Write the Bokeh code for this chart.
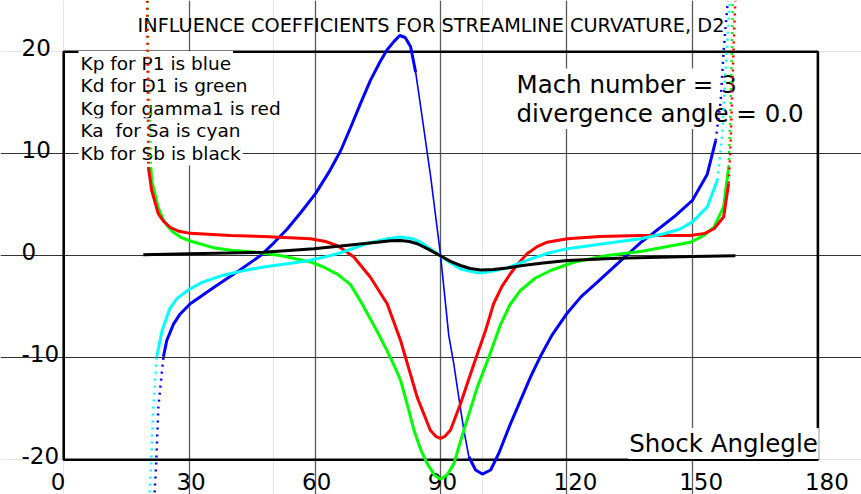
import numpy as np
from bokeh.plotting import figure
from bokeh.models import Range1d, Grid, FixedTicker
from bokeh.core.properties import value
from bokeh.embed import file_html
from bokeh.resources import INLINE

# ---------------- data ----------------
TITLE = "INFLUENCE COEFFICIENTS FOR STREAMLINE CURVATURE, D2"
X_TICKS = [0, 30, 60, 90, 120, 150, 180]
X_TICK_LABELS = ["0", "30", "60", "90", "120", "150", "180"]
Y_TICKS = [20, 10, 0, -10, -20]
Y_TICK_LABELS = ["20", "10", "0", "-10", "-20"]
X_GRID = [30, 60, 90, 120, 150]
Y_GRID = [10, 0, -10]
LEGEND_LINES = ["Kp for P1 is blue", "Kd for D1 is green", "Kg for gamma1 is red",
                "Ka\u00a0 for Sa is cyan", "Kb for Sb is black"]
INFO_LINES = ["Mach number = 3", "divergence angle = 0.0"]
X_LABEL = "Shock Anglegle"

# Kp (blue)
kp_x = [21.7, 22.0, 22.6, 23.8, 24.6, 26.2, 27.8, 30.2, 35.8, 41.3, 46.9, 50.0, 53.3, 56.5,
        60.1, 63.3, 66.1, 68.5, 70.8, 73.2, 75.6, 77.2, 78.8, 80.2, 81.5, 82.8, 84.0, 85.2,
        86.8, 87.5, 89.9, 91.9, 93.1, 94.3, 95.5, 96.7, 98.3, 99.9, 101.9, 103.8, 106.6, 111.4,
        113.6, 116.5, 120.2, 123.5, 127.3, 132.9, 137.7, 140.0, 145.6, 150.0, 153.6, 155.6,
        156.8, 157.5, 158.5]
kp_y = [-23.2, -21.0, -14.8, -9.9, -8.3, -6.7, -5.7, -4.7, -3.1, -1.6, 0.0, 1.2, 2.6, 4.2,
        6.1, 8.2, 10.3, 12.6, 14.9, 17.2, 19.1, 20.2, 21.0, 21.6, 21.4, 20.5, 18.0, 14.6,
        10.0, 8.0, 0.2, -7.8, -10.6, -13.9, -17.1, -19.7, -21.0, -21.4, -21.0, -19.4, -16.5, -11.9,
        -10.0, -7.8, -5.6, -4.0, -2.6, -0.5, 1.3, 2.0, 3.8, 5.4, 8.0, 11.3,
        15.2, 20.1, 25.0]
# Kd (green)
kd_x = [20.1, 20.2, 20.8, 21.0, 22.5, 23.8, 25.0, 26.2, 28.0, 30.2, 35.7, 40.0, 44.5, 47.0,
        52.0, 58.9, 62.0, 65.3, 68.4, 70.8, 74.8, 76.8, 78.8, 80.4, 82.0, 83.6, 85.2, 86.8,
        88.5, 89.9, 91.5, 93.1, 95.5, 98.7, 101.5, 104.2, 106.5, 109.0, 112.5, 116.2, 121.7,
        129.7, 137.7, 149.6, 152.8, 155.2, 157.5, 158.7, 159.1, 159.5, 159.7]
kd_y = [25.0, 20.4, 8.7, 7.4, 4.8, 3.5, 2.8, 2.3, 1.8, 1.45, 0.8, 0.55, 0.4, 0.3,
        0.0, -0.6, -1.1, -1.8, -2.8, -4.4, -7.4, -9.0, -10.7, -12.2, -14.6, -17.1, -19.0, -20.4,
        -21.5, -21.9, -21.5, -20.4, -17.1, -12.9, -9.9, -6.8, -4.8, -3.4, -2.2, -1.44, -0.63,
        0.03, 0.42, 1.33, 2.0, 2.8, 4.8, 8.7, 13.6, 20.8, 25.0]
# Kg (red)
kg_x = [19.9, 20.0, 20.2, 21.0, 22.6, 23.8, 25.4, 27.5, 30.2, 39.7, 47.7, 58.9, 62.5, 65.3,
        69.2, 73.2, 77.2, 80.4, 84.4, 87.5, 88.8, 89.9, 91.0, 92.3, 94.7, 97.9, 100.7, 102.6,
        104.6, 106.6, 108.6, 110.6, 113.0, 115.4, 120.2, 128.0, 137.7, 149.6, 153.0, 155.2,
        157.5, 158.7, 159.1, 159.5, 159.9, 160.3]
kg_y = [25.0, 20.4, 8.7, 6.4, 4.1, 3.4, 2.8, 2.4, 2.2, 2.0, 1.9, 1.67, 1.4, 1.0,
        -0.1, -2.1, -4.7, -8.3, -13.9, -17.1, -17.7, -17.9, -17.7, -17.1, -14.5, -10.6, -7.3, -4.7,
        -3.0, -1.76, -0.7, 0.2, 0.9, 1.33, 1.67, 1.9, 2.0, 2.0, 2.2, 2.65,
        3.8, 7.1, 10.3, 15.2, 20.8, 25.0]
# Ka (cyan)
ka_x = [20.5, 20.8, 21.4, 22.2, 23.5, 25.3, 27.0, 29.9, 33.0, 38.1, 43.0, 47.7, 58.1, 62.0,
        66.1, 72.4, 77.2, 80.4, 83.0, 85.2, 87.5, 89.9, 92.3, 94.7, 97.9, 99.5, 102.5, 105.8,
        109.0, 112.2, 116.0, 120.2, 129.7, 137.7, 143.2, 147.0, 150.0, 153.6, 156.0, 157.2,
        158.0, 159.0]
ka_y = [-23.2, -20.7, -14.8, -9.9, -7.3, -5.2, -4.2, -3.3, -2.6, -1.9, -1.45, -1.1, -0.5, -0.15,
        0.3, 1.2, 1.67, 1.85, 1.7, 1.33, 0.7, 0.0, -0.7, -1.3, -1.6, -1.7, -1.5, -1.2,
        -0.7, -0.2, 0.3, 0.7, 1.24, 1.67, 2.16, 2.6, 3.3, 4.8, 7.4, 12.0,
        18.5, 25.0]
# Kb (black)
kb_x = [19.0, 29.9, 47.7, 59.7, 66.1, 74.8, 78.0, 80.4, 82.5, 84.4, 87.0, 89.9, 92.3, 94.7,
        97.0, 99.5, 102.5, 105.8, 109.5, 113.9, 120.2, 132.1, 150.0, 160.3]
kb_y = [0.1, 0.2, 0.35, 0.69, 0.95, 1.33, 1.48, 1.5, 1.4, 1.18, 0.65, 0.0, -0.55, -0.95,
        -1.25, -1.4, -1.35, -1.2, -0.95, -0.72, -0.46, -0.23, -0.06, 0.0]

# ---------------- layout ----------------
W, H = 861, 494
X0PX, SX = 63.2, 4.19      # canvas px of x=0, px per degree
Y0PX, SY = 255.3, 10.2     # canvas px of y=0, px per unit


def px2x(px):
    return (px - X0PX) / SX


def px2y(py):
    return (Y0PX - py) / SY


p = figure(width=W, height=H,
           x_range=Range1d(px2x(0), px2x(W)), y_range=Range1d(px2y(H), px2y(0)),
           x_axis_location=None, y_axis_location=None,
           toolbar_location=None, output_backend="svg", min_border=0)
p.outline_line_color = None
p.background_fill_color = "white"
p.border_fill_color = "white"

vgrid = Grid(dimension=0, ticker=FixedTicker(ticks=X_GRID), bounds=(Y_TICKS[-1], Y_TICKS[0]),
             grid_line_color="#5a5a5a", grid_line_width=1.3)
hgrid = Grid(dimension=1, ticker=FixedTicker(ticks=Y_GRID), bounds=(X_TICKS[0], X_TICKS[-1]),
             grid_line_color="#333333", grid_line_width=1)
p.add_layout(vgrid)
p.add_layout(hgrid)

# plot box
p.quad(left=[X_TICKS[0]], right=[X_TICKS[-1]], bottom=[Y_TICKS[-1]], top=[Y_TICKS[0]],
       fill_color=None, line_color="black", line_width=2.6)

FONT = value("DejaVu Sans")

# tick labels (anchor y = visual centre of the digits)
p.text(x=[X_TICKS[0]] * len(Y_TICKS), y=Y_TICKS, text=Y_TICK_LABELS, x_offset=-42.2, y_offset=-4.5,
       text_font=FONT, text_font_size="23px", text_color="black",
       text_align="left", text_baseline="alphabetic")
p.text(x=X_TICKS, y=[Y_TICKS[-1]] * len(X_TICKS), text=X_TICK_LABELS, x_offset=-13, y_offset=21.7,
       text_font=FONT, text_font_size="23px", text_color="black",
       text_align="left", text_baseline="alphabetic")

# title
p.text(x=[px2x(430.5)], y=[px2y(25.3)], text=[TITLE], text_font=FONT, text_font_size="19.3px",
       text_color="black", text_align="center", text_baseline="alphabetic")

# legend-like text block
p.text(x=[px2x(78)] * 5, y=[px2y(63.0 + 22.4 * i) for i in range(5)], text=LEGEND_LINES,
       text_font=FONT, text_font_size="18.5px", text_color="black", text_align="left",
       text_baseline="alphabetic", background_fill_color="white", padding=2)

# info text
p.text(x=[px2x(515)] * 2, y=[px2y(83.6), px2y(113.0)], text=INFO_LINES,
       text_font=FONT, text_font_size="24.5px", text_color="black", text_align="left",
       text_baseline="alphabetic", background_fill_color="white", padding=1)

# x axis title
p.text(x=[px2x(818.3)], y=[px2y(443.0)], text=[X_LABEL],
       text_font=FONT, text_font_size="24.5px", text_color="black", text_align="right",
       text_baseline="alphabetic", background_fill_color="white", padding=1)


def expand(mask):
    m = mask.copy()
    m[1:] |= mask[:-1]
    m[:-1] |= mask[1:]
    return m


def draw(xs, ys, color, thresh=None, thin=None):
    x = np.array(xs, dtype=float)
    y = np.array(ys, dtype=float)
    if thresh is not None:
        dotted = ((x < 40) | (x > 140)) & (np.abs(y) > thresh)
    else:
        dotted = np.zeros(len(x), dtype=bool)
    solid = ~dotted
    if thin is not None:
        th = (x > thin[0]) & (x < thin[1])
        p.line(x, np.where(expand(th), y, np.nan), line_color=color, line_width=1.6)
        solid = solid & ~th
    if dotted.any():
        p.line(x, np.where(expand(dotted), y, np.nan), line_color=color, line_width=2.5,
               line_dash="2 5")
    p.line(x, np.where(solid, y, np.nan), line_color=color, line_width=3)


draw(kp_x, kp_y, "#0000ff", thresh=13, thin=(84, 96))
draw(kd_x, kd_y, "#00ff00", thresh=9)
draw(kg_x, kg_y, "#ff0000", thresh=9)
draw(ka_x, ka_y, "#00ffff", thresh=10.5)
draw(kb_x, kb_y, "#000000")

open("out.html", "w").write(file_html(p, INLINE))
